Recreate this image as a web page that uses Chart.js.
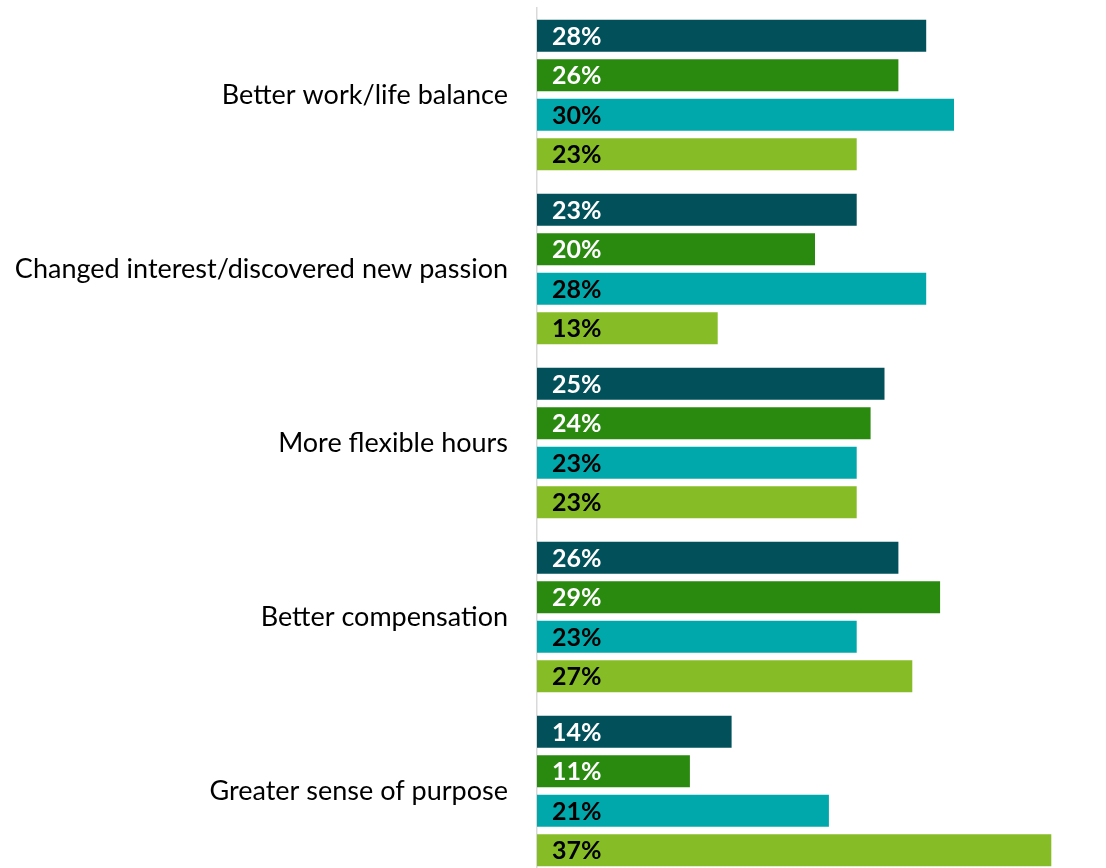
<!DOCTYPE html>
<html>
<head>
<meta charset="utf-8">
<script src="https://cdn.jsdelivr.net/npm/chart.js@4"></script>
<style>
    body { margin: 0; background: #fff; overflow: hidden; }
    #reasonsChart { display: block; }
</style>
</head>
<body>
<canvas id="reasonsChart" width="1106" height="880"></canvas>
<script>
// 카테고리와 시리즈 값
const categories = [
    'Better work/life balance',
    'Changed interest/discovered new passion',
    'More flexible hours',
    'Better compensation',
    'Greater sense of purpose'
];
const seriesNames = ['Segment 1', 'Segment 2', 'Segment 3', 'Segment 4'];
const segment1 = [28, 23, 25, 26, 14];
const segment2 = [26, 20, 24, 29, 11];
const segment3 = [30, 28, 23, 23, 21];
const segment4 = [23, 13, 23, 27, 37];

const barColors = ['#01505A', '#2A8A10', '#00A8AB', '#86BC26'];
const labelColors = ['#FFFFFF', '#FFFFFF', '#000000', '#000000'];

// 막대 안쪽 왼쪽에 퍼센트 표시
const barLabels = {
    id: 'barLabels',
    afterDatasetsDraw(chart) {
        const ctx = chart.ctx;
        ctx.save();
        ctx.font = 'bold 25px Lato';
        ctx.textBaseline = 'middle';
        ctx.textAlign = 'left';
        chart.data.datasets.forEach((ds, i) => {
            const meta = chart.getDatasetMeta(i);
            ctx.fillStyle = labelColors[i];
            meta.data.forEach((bar, j) => {
                ctx.fillText(ds.data[j] + '%', bar.base + 15, bar.y + 1);
            });
        });
        ctx.restore();
    }
};

const ctx = document.getElementById('reasonsChart').getContext('2d');
new Chart(ctx, {
    type: 'bar',
    data: {
        labels: categories,
        datasets: [segment1, segment2, segment3, segment4].map((values, i) => ({
            label: seriesNames[i],
            data: values,
            backgroundColor: barColors[i],
            categoryPercentage: 0.908,
            barPercentage: 0.81
        }))
    },
    options: {
        indexAxis: 'y',
        responsive: false,
        animation: false,
        layout: { padding: { top: 8, right: 13, bottom: 2, left: 0 } },
        plugins: {
            legend: { display: false },
            tooltip: { enabled: false }
        },
        scales: {
            x: {
                display: false,
                min: 0,
                max: 40
            },
            y: {
                // 축 폭 고정, 라벨 여백이 위아래로 번지지 않게
                afterFit(scale) {
                    scale.width = 537;
                    scale.paddingTop = 0;
                    scale.paddingBottom = 0;
                },
                grid: { display: false, drawTicks: false },
                border: { display: true, color: '#D9D9D9', width: 1.5 },
                ticks: {
                    padding: 29,
                    color: '#000000',
                    font: { family: 'Lato', size: 27 }
                }
            }
        }
    },
    plugins: [barLabels]
});
</script>
</body>
</html>
